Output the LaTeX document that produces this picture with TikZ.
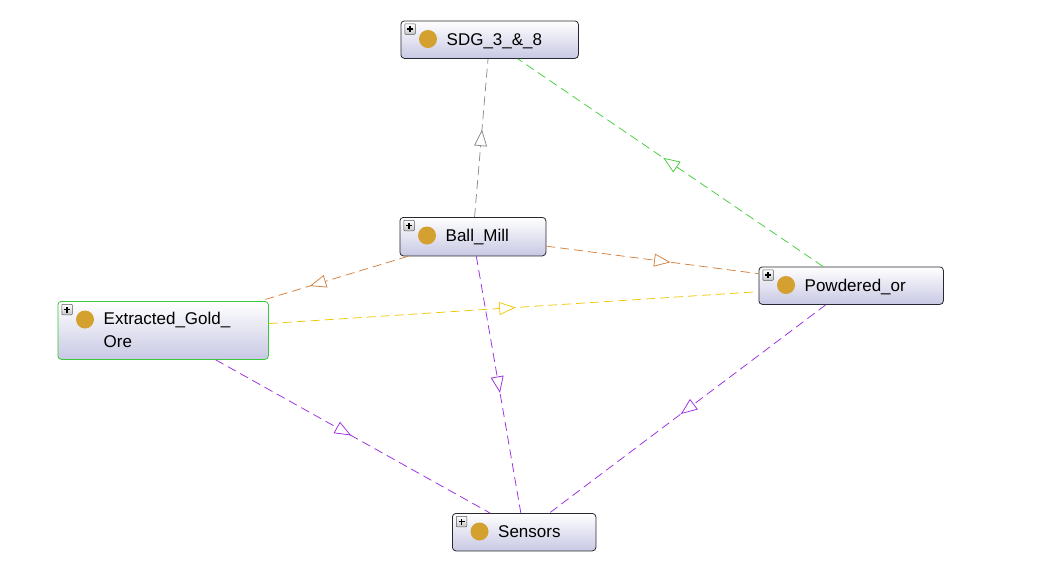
\documentclass[tikz,border=0pt]{standalone}
\usepackage{fontspec}
\setmainfont{Liberation Sans}
\usetikzlibrary{decorations.markings}

\definecolor{clsborder}{RGB}{40,40,50}
\definecolor{clsfill}{RGB}{200,200,228}
\definecolor{golddot}{RGB}{212,160,48}
\definecolor{edgegrey}{RGB}{140,140,140}
\definecolor{edgegreen}{RGB}{70,205,60}
\definecolor{edgeorange}{RGB}{212,128,60}
\definecolor{edgeyellow}{RGB}{240,200,0}
\definecolor{edgepurple}{RGB}{155,45,225}
\definecolor{selgreen}{RGB}{60,200,60}

\tikzset{
  clsbox/.style={draw=clsborder, line width=0.8pt, rounded corners=3.5pt,
    top color=white, bottom color=clsfill, anchor=north west, inner sep=0pt},
  plusicon/.style={draw=gray!70!black, line width=0.5pt, top color=white,
    bottom color=gray!45, minimum size=10.5pt, inner sep=0pt, rounded corners=0.8pt,
    path picture={
      \draw[line width=1.1pt, black]
        ([xshift=-3pt]path picture bounding box.center) -- ([xshift=3pt]path picture bounding box.center)
        ([yshift=-3pt]path picture bounding box.center) -- ([yshift=3pt]path picture bounding box.center);}},
  clsdot/.style={circle, fill=golddot, minimum size=18pt, inner sep=0pt},
  clslabel/.style={inner sep=0pt, font=\fontsize{17}{23.4}\selectfont, align=left},
  rel/.style={dash pattern=on 9pt off 5pt, line width=0.75pt},
  % open triangle half way between the two class centres
  relhead/.style={decorate, decoration={markings,
      mark=at position 0.5 with {\draw[#1, solid, line width=0.75pt, fill=white, line join=miter]
        (7.5,0) -- (-7.5,6) -- (-7.5,-6) -- cycle;}}}
}

% box, icon and dot of one class
\newcommand{\classbox}[6]{%
  \node[clsbox, draw=#6, minimum width=#4pt, minimum height=#5pt] (#1) at (#2,#3) {};
  \node[plusicon] (#1-plus) at ([xshift=9.5pt,yshift=-8.5pt]#1.north west) {};
  \node[clsdot] (#1-dot) at ([xshift=27.5pt,yshift=-18.5pt]#1.north west) {};
}
% dashed relation from #2 to #3 in colour #1
\newcommand{\relation}[3]{%
  \draw[rel, #1] (#2) -- (#3);
  \path[relhead=#1] (#2.center) -- (#3.center);
}

\begin{document}
\begin{tikzpicture}[x=1pt,y=-1pt]
\useasboundingbox[fill=white] (0,0) rectangle (1058,582);

\classbox{sdg}{400.5}{20.5}{177.5}{37.5}{clsborder}
\classbox{mill}{399.5}{217}{146}{38.5}{clsborder}
\classbox{ore}{57.5}{301}{210.5}{58}{selgreen}
\classbox{powder}{758.5}{266.5}{184.5}{37.5}{clsborder}
\classbox{sensors}{452}{513}{143.5}{37.5}{clsborder}

\node[clslabel, anchor=base west] (sdg-text) at (446.5,45) {SDG\_3\_\&\_8};
\node[clslabel, anchor=base west] (mill-text) at (445.5,241.5) {Ball\_Mill};
\node[clslabel, anchor=north west] (ore-text) at (103.5,312) {Extracted\_Gold\_\\Ore};
\node[clslabel, anchor=base west] (powder-text) at (804.5,291) {Powdered\_or};
\node[clslabel, anchor=base west] (sensors-text) at (498,537.5) {Sensors};

\relation{edgegrey}{mill}{sdg}
\relation{edgegreen}{powder}{sdg}
\relation{edgeorange}{mill}{powder}
\relation{edgeorange}{mill}{ore}
\relation{edgeyellow}{ore}{powder}
\relation{edgepurple}{ore}{sensors}
\relation{edgepurple}{mill}{sensors}
\relation{edgepurple}{powder}{sensors}
\end{tikzpicture}
\end{document}
